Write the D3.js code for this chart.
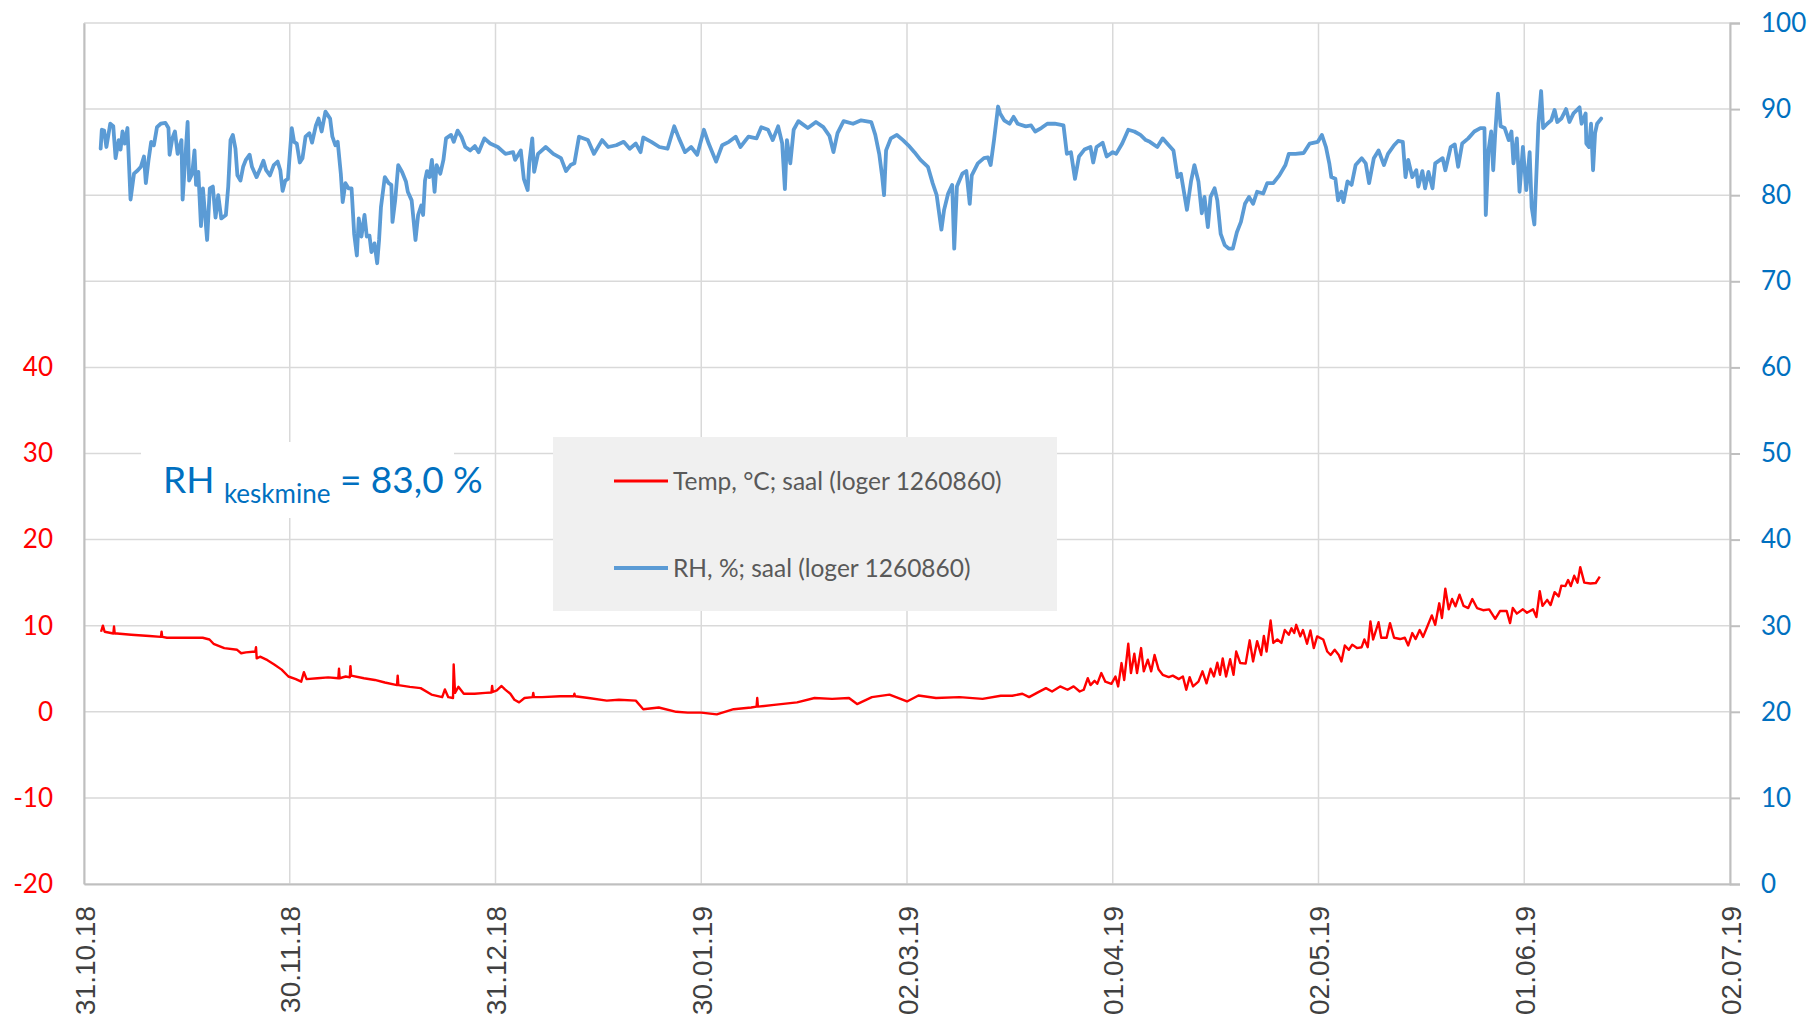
<!DOCTYPE html>
<html>
<head>
<meta charset="utf-8">
<script src="https://d3js.org/d3.v7.min.js"></script>
<style>
  body { margin: 0; background: #fff; }
  svg { display: block; }
</style>
</head>
<body>
<svg id="chart"></svg>
<script>
// days are counted from 31.10.2018 (the first date on the axis)
const startDate = Date.UTC(2018, 9, 31)
const dayMs = 864e5

const tempDays = [
  2.53, 2.8, 3.06, 4.35, 4.45, 4.55, 4.9, 7.0, 9.7, 11.4, 11.5, 11.6, 12.3, 15.0, 17.6, 18.6, 19.2, 20.8,
  22.7, 23.3, 24.0, 25.4, 25.5, 25.6, 26.1, 27.2, 28.2, 29.3, 30.3, 31.4, 32.2, 32.6, 33.0, 34.6, 36.2,
  37.7, 37.8, 37.9, 38.8, 39.4, 39.5, 39.6, 41.5, 43.1, 44.6, 46.4, 46.5, 46.6, 48.3, 49.9, 51.5, 53.1,
  53.5, 54.0, 54.7, 54.8, 55.0, 55.5, 56.3, 57.9, 59.5, 60.4, 60.5, 60.6, 61.2, 61.9, 62.4, 63.2, 63.8,
  64.5, 65.3, 66.5, 66.6, 66.7, 67.9, 70.6, 72.6, 72.7, 72.8, 74.8, 77.5, 79.3, 81.8, 82.9, 85.2, 87.8,
  89.5, 91.5, 93.8, 96.3, 98.9, 99.7, 99.8, 99.9, 102.3, 105.7, 108.3, 110.9, 113.4, 114.6, 116.8, 119.4,
  122.0, 123.7, 126.3, 129.8, 133.2, 135.9, 137.6, 139.1, 140.1, 141.4, 142.6, 143.5, 144.7, 145.8, 146.7,
  147.6, 148.2, 148.8, 149.2, 149.8, 150.2, 150.8, 151.4, 152.3, 152.9, 153.3, 153.8, 154.2, 154.8, 155.2,
  155.7, 156.1, 156.7, 157.1, 157.7, 158.2, 158.7, 159.3, 159.9, 160.8, 161.4, 162.3, 162.9, 163.4, 163.9,
  164.4, 165.2, 165.8, 166.4, 167.0, 167.5, 168.0, 168.4, 168.8, 169.3, 169.9, 170.4, 170.8, 171.4, 172.2,
  172.8, 173.3, 173.9, 174.5, 174.9, 175.3, 175.9, 176.3, 176.9, 177.5, 178.0, 178.6, 179.0, 179.4, 179.7,
  180.3, 180.7, 181.3, 181.8, 182.3, 182.8, 183.7, 184.3, 184.8, 185.4, 186.0, 186.4, 186.9, 187.5, 188.0,
  188.7, 189.4, 189.8, 190.3, 190.7, 191.1, 191.9, 192.3, 193.1, 193.6, 194.2, 195.1, 195.8, 196.3, 196.9,
  197.4, 198.0, 198.5, 199.1, 199.8, 200.3, 200.9, 201.3, 201.8, 202.3, 202.8, 203.3, 203.9, 204.5, 205.2,
  205.8, 206.5, 207.4, 208.3, 209.2, 209.9, 210.9, 211.4, 211.8, 212.4, 213.3, 213.9, 214.8, 215.3, 215.8,
  216.2, 216.9, 217.4, 218.0, 218.6, 219.0, 219.6, 220.0, 220.4, 220.9, 221.4, 221.8, 222.4, 223.3, 224.1,
  224.7
]
const tempValues = [
  9.3, 10.0, 9.3, 9.1, 9.9, 9.1, 9.1, 8.95, 8.8, 8.7, 9.3, 8.7, 8.6, 8.6, 8.6, 8.4, 7.9, 7.4,
  7.2, 6.8, 6.9, 7.0, 7.5, 6.2, 6.4, 6.0, 5.5, 4.9, 4.1, 3.8, 3.5, 4.6, 3.8, 3.9, 4.0,
  3.9, 5.0, 3.9, 4.1, 4.0, 5.3, 4.2, 3.9, 3.7, 3.4, 3.1, 4.2, 3.1, 2.9, 2.75, 2.0, 1.7,
  2.6, 1.7, 1.6, 5.5, 2.2, 2.9, 2.1, 2.1, 2.2, 2.25, 3.0, 2.3, 2.5, 3.0, 2.6, 2.1, 1.4,
  1.1, 1.6, 1.7, 2.2, 1.7, 1.7, 1.8, 1.8, 2.1, 1.8, 1.6, 1.3, 1.4, 1.3, 0.3, 0.5, 0.0,
  -0.1, -0.1, -0.3, 0.3, 0.5, 0.6, 1.6, 0.6, 0.8, 1.1, 1.6, 1.5, 1.6, 0.9, 1.7, 2.0,
  1.2, 1.9, 1.6, 1.7, 1.5, 1.86, 1.86, 2.1, 1.7, 2.25, 2.75, 2.36, 2.95, 2.56, 2.95,
  2.36, 2.56, 3.9, 3.1, 3.6, 3.25, 4.5, 3.5, 3.25, 4.1, 2.95, 5.66, 3.7, 7.9, 4.5,
  6.74, 4.5, 7.4, 4.7, 6.05, 4.7, 6.6, 4.9, 4.3, 4.03, 4.2, 3.8, 4.1, 2.56, 4.03,
  2.95, 3.5, 4.7, 3.3, 5.0, 4.1, 5.7, 4.3, 6.2, 4.1, 6.1, 4.3, 7.0, 5.66, 5.6,
  8.3, 5.85, 8.2, 6.6, 8.8, 7.0, 10.6, 8.0, 8.4, 8.0, 9.5, 8.95, 9.7, 9.15, 10.1,
  8.76, 9.5, 7.9, 9.45, 7.4, 8.76, 8.4, 7.0, 6.6, 7.2, 6.6, 5.85, 7.7, 7.2, 7.8,
  7.4, 7.5, 8.4, 7.5, 10.5, 8.4, 10.4, 8.6, 8.6, 10.3, 8.6, 8.45, 8.6, 7.7, 9.15,
  8.45, 9.5, 8.7, 9.85, 11.2, 10.1, 12.6, 10.9, 14.3, 11.9, 13.1, 12.25, 13.6, 12.3, 12.05,
  13.1, 12.05, 11.8, 11.9, 10.8, 11.7, 11.7, 10.3, 12.05, 11.4, 11.9, 11.5, 11.9, 11.0, 14.0,
  12.3, 13.0, 12.4, 13.9, 13.4, 14.65, 14.6, 15.3, 14.6, 15.8, 15.0, 16.8, 15.0, 14.9, 14.96,
  15.7
]

const rhDays = [
  2.47, 2.64, 2.98, 3.32, 3.89, 4.34, 4.68, 5.14, 5.42, 5.71, 6.05, 6.44, 6.9, 7.41, 7.98, 8.43, 8.89,
  9.17, 9.57, 9.96, 10.36, 10.82, 11.38, 12.07, 12.52, 12.69, 13.09, 13.48, 13.88, 14.45, 14.62, 15.36,
  15.58, 16.04, 16.38, 16.61, 16.95, 17.34, 17.63, 18.25, 18.65, 19.1, 19.5, 19.9, 20.35, 21.03, 21.38,
  21.72, 22.06, 22.45, 22.74, 23.19, 23.59, 23.99, 24.55, 24.9, 25.58, 26.14, 26.6, 27.0, 27.56, 28.13,
  28.7, 29.1, 29.44, 29.84, 30.23, 30.8, 31.14, 31.54, 31.99, 32.39, 32.84, 33.41, 33.81, 34.38, 34.77,
  35.23, 35.79, 36.48, 36.82, 37.27, 37.61, 38.07, 38.35, 38.75, 39.2, 39.66, 40.05, 40.45, 40.73, 41.13,
  41.58, 41.92, 42.32, 42.61, 43.06, 43.46, 43.74, 44.02, 44.59, 45.16, 45.56, 45.73, 46.13, 46.58, 47.15,
  47.72, 48.0, 48.57, 49.14, 49.53, 49.99, 50.27, 50.55, 50.84, 51.23, 51.57, 51.97, 52.26, 52.82, 53.28,
  53.67, 54.41, 54.81, 55.38, 55.95, 56.52, 57.25, 57.94, 58.5, 59.35, 60.21, 61.34, 62.48, 63.61, 63.9,
  64.75, 65.2, 65.77, 66.0, 66.45, 66.73, 67.3, 68.44, 69.57, 70.71, 71.45, 72.13, 72.69, 73.38, 74.7,
  75.6, 76.8, 77.7, 78.9, 80.0, 80.9, 81.8, 82.5, 82.9, 84.1, 85.3, 86.5, 87.5, 88.2, 89.1, 90.0, 90.9,
  91.9, 92.6, 93.7, 94.6, 95.6, 96.6, 97.3, 98.5, 99.7, 100.4, 101.4, 102.1, 102.9, 103.5, 103.9, 104.2,
  104.7, 105.2, 105.9, 107.3, 108.5, 109.6, 110.5, 111.1, 111.7, 112.6, 114.0, 115.2, 116.7, 117.3, 117.9,
  118.3, 118.6, 118.9, 119.6, 120.5, 121.4, 122.2, 123.1, 124.0, 125.1, 125.8, 126.4, 127.1, 127.5, 128.1,
  128.7, 129.0, 129.4, 130.2, 130.8, 131.3, 131.6, 132.5, 133.4, 134.0, 134.4, 134.9, 135.5, 135.8, 136.4,
  137.2, 137.8, 138.4, 139.6, 140.4, 141.0, 141.9, 142.8, 143.9, 145.2, 145.7, 146.3, 146.9, 147.5, 148.3,
  149.2, 149.6, 150.1, 151.0, 151.6, 152.5, 153.0, 153.9, 154.8, 155.7, 156.6, 157.4, 158.0, 159.1, 159.9,
  160.8, 161.5, 162.1, 162.6, 163.5, 164.1, 164.6, 165.2, 165.7, 166.1, 166.6, 167.0, 167.6, 168.0, 168.5,
  169.1, 169.7, 170.3, 170.9, 171.5, 172.1, 172.7, 173.3, 173.9, 174.8, 175.4, 176.3, 177.2, 178.1, 178.6,
  179.6, 180.8, 181.7, 182.9, 183.5, 184.1, 184.6, 184.9, 185.5, 185.9, 186.4, 186.7, 187.3, 187.9, 188.5,
  189.4, 190.0, 190.5, 191.2, 191.9, 192.7, 193.3, 194.2, 194.8, 195.5, 195.9, 196.3, 196.9, 197.5, 197.8,
  198.4, 198.8, 199.3, 199.9, 200.3, 201.4, 201.8, 202.6, 203.2, 203.7, 204.3, 205.2, 206.1, 207.0, 207.6,
  207.8, 208.2, 208.6, 208.9, 209.2, 209.6, 210.0, 210.6, 211.2, 211.6, 211.9, 212.4, 212.8, 213.3, 213.8,
  214.3, 214.6, 215.0, 215.6, 216.0, 216.3, 216.9, 217.5, 218.0, 218.4, 219.0, 219.7, 220.2, 220.8, 221.7,
  222.0, 222.6, 222.7, 223.1, 223.4, 223.7, 224.0, 224.3, 224.9
]
const rhValues = [
  85.4, 87.6, 87.5, 85.6, 88.3, 88.0, 84.3, 86.4, 85.3, 87.4, 86.0, 87.8, 79.5, 82.5, 82.9, 83.3, 84.5,
  81.4, 84.1, 86.2, 85.8, 87.9, 88.3, 88.4, 87.8, 84.7, 86.6, 87.4, 84.8, 86.4, 79.5, 88.5,
  81.7, 82.5, 85.2, 81.2, 82.7, 76.4, 80.8, 74.8, 80.8, 81.0, 77.4, 80.0, 77.3, 77.7, 81.0,
  86.4, 87.0, 85.4, 82.3, 81.7, 83.3, 84.1, 84.7, 83.3, 82.1, 83.1, 84.0, 82.9, 82.3, 83.5,
  83.9, 82.9, 80.5, 81.7, 81.9, 87.8, 86.2, 86.0, 83.8, 84.3, 86.8, 87.2, 86.1, 88.1, 88.9,
  87.4, 89.7, 88.9, 86.8, 85.8, 86.2, 82.5, 79.2, 81.4, 80.8, 80.8, 75.5, 73.0, 77.3, 75.2,
  77.7, 75.2, 75.3, 73.4, 74.4, 72.1, 74.8, 78.6, 82.1, 81.4, 81.2, 76.9, 79.4, 83.5, 82.7,
  81.6, 80.4, 79.4, 74.8, 77.7, 78.8, 77.7, 81.7, 82.8, 82.1, 84.1, 80.4, 83.5, 82.5, 84.1,
  86.6, 87.0, 86.2, 87.5, 86.8, 85.6, 85.2, 85.7, 85.0, 86.6, 86.0, 85.6, 84.8, 85.0, 84.1,
  85.2, 81.9, 80.6, 83.7, 86.6, 82.7, 84.8, 85.6, 84.8, 84.3, 82.8, 83.5, 83.7, 86.8, 86.4,
  84.8, 86.4, 85.6, 85.8, 86.2, 85.4, 86.0, 85.0, 86.7, 86.2, 85.6, 85.4, 88.0, 86.6, 85.0, 85.6, 84.7,
  87.6, 86.0, 83.9, 85.8, 86.2, 86.8, 85.6, 86.8, 86.6, 87.9, 87.6, 86.4, 88.0, 86.0, 80.7, 86.4,
  83.7, 87.6, 88.6, 87.8, 88.5, 87.9, 86.9, 85.0, 87.2, 88.6, 88.3, 88.7, 88.5, 87.0, 84.7,
  82.3, 80.0, 85.2, 86.6, 87.0, 86.4, 85.8, 85.0, 84.1, 83.3, 81.4, 80.0, 76.0, 78.3, 80.2,
  81.2, 73.8, 81.0, 82.5, 82.8, 79.0, 82.3, 83.7, 84.3, 84.4, 83.5, 86.4, 90.3, 89.5, 88.7,
  88.3, 89.1, 88.3, 88.0, 88.1, 87.4, 87.8, 88.3, 88.3, 88.1, 84.8, 85.0, 81.9, 84.5, 85.3,
  85.6, 83.8, 85.6, 86.1, 84.5, 85.0, 84.8, 86.0, 87.6, 87.4, 87.0, 86.4, 86.2, 85.6, 86.6,
  85.8, 85.2, 82.1, 82.5, 78.3, 81.6, 83.5, 81.6, 77.9, 79.8, 76.3, 79.8, 80.8, 79.4, 75.5,
  74.2, 73.8, 73.8, 75.7, 76.9, 79.0, 79.8, 79.0, 80.4, 80.2, 81.4, 81.4, 82.3, 83.5, 84.8,
  84.8, 84.9, 86.0, 86.2, 87.0, 85.6, 83.7, 82.1, 81.9, 79.4, 80.4, 79.2, 81.6, 81.2, 83.5,
  84.3, 83.7, 81.4, 84.3, 85.2, 83.5, 84.8, 85.8, 86.3, 86.2, 82.1, 84.1, 82.1, 82.9, 81.0,
  82.8, 80.8, 82.7, 80.8, 83.7, 84.3, 82.9, 85.6, 85.9, 83.3, 86.0, 86.6, 87.4, 87.8, 87.8,
  77.7, 85.2, 87.4, 82.9, 87.2, 91.8, 88.0, 87.8, 86.4, 87.4, 83.7, 86.6, 80.4, 85.6, 80.6,
  85.0, 78.6, 76.6, 88.3, 92.1, 87.8, 88.3, 88.7, 89.9, 88.5, 88.9, 90.0, 88.5, 89.5, 90.2,
  88.3, 89.5, 86.0, 85.6, 88.3, 82.9, 87.2, 88.3, 88.9
]

const leftTicks = [-20, -10, 0, 10, 20, 30, 40]
const rightTicks = [0, 10, 20, 30, 40, 50, 60, 70, 80, 90, 100]
// date axis: 31.10.18 .. 02.07.19 with a major unit of 30.5 days
const dateTicks = d3.range(0, 244.01, 30.5)
const seriesNames = ['Temp, °C; saal (loger 1260860)', 'RH, %; saal (loger 1260860)']
const seriesColors = ['#ff0000', '#5b9bd5']
const rhMeanParts = ['RH ', 'keskmine', ' = 83,0 %']

const W = 1811
const H = 1020
const margin = { top: 23, right: 81, bottom: 136, left: 84 }
const width = W - margin.left - margin.right
const height = H - margin.top - margin.bottom

const numFont = 'Lato, "Open Sans", sans-serif'
const dateFont = '"Liberation Sans", Arial, sans-serif'

const toDate = (d) => new Date(startDate + d * dayMs)

const x = d3.scaleUtc()
  .domain([toDate(0), toDate(244)])
  .range([0, width])

const yLeft = d3.scaleLinear().domain([-20, 80]).range([height, 0])
const yRight = d3.scaleLinear().domain([0, 100]).range([height, 0])

const svg = d3.select('#chart')
  .attr('width', W)
  .attr('height', H)

const g = svg.append('g')
  .attr('transform', `translate(${margin.left}, ${margin.top})`)

// gridlines
g.append('g')
  .selectAll('line')
  .data(rightTicks)
  .join('line')
  .attr('x1', 0)
  .attr('x2', width)
  .attr('y1', (d) => yRight(d))
  .attr('y2', (d) => yRight(d))
  .attr('stroke', '#d9d9d9')
  .attr('stroke-width', 1.5)

g.append('g')
  .selectAll('line')
  .data(dateTicks)
  .join('line')
  .attr('x1', (d) => x(toDate(d)))
  .attr('x2', (d) => x(toDate(d)))
  .attr('y1', 0)
  .attr('y2', height)
  .attr('stroke', '#d9d9d9')
  .attr('stroke-width', 1.5)

// left axis (temperature), plain hyphen for negatives like the original
const leftAxis = g.append('g')
  .call(d3.axisLeft(yLeft).tickValues(leftTicks).tickFormat((d) => String(d)).tickSize(0).tickPadding(31))
leftAxis.select('.domain').attr('stroke', '#bfbfbf').attr('stroke-width', 2)
leftAxis.selectAll('text')
  .attr('fill', '#ff0000')
  .style('font-family', numFont)
  .style('font-size', '26px')

// right axis (RH)
const rightAxis = g.append('g')
  .attr('transform', `translate(${width}, 0)`)
  .call(d3.axisRight(yRight).tickValues(rightTicks).tickSize(10).tickPadding(21))
rightAxis.select('.domain').attr('stroke', '#bfbfbf').attr('stroke-width', 2)
rightAxis.selectAll('line').attr('stroke', '#bfbfbf').attr('stroke-width', 2)
rightAxis.selectAll('text')
  .attr('fill', '#0070c0')
  .style('font-family', numFont)
  .style('font-size', '26px')

// bottom date axis
const bottomAxis = g.append('g')
  .attr('transform', `translate(0, ${height})`)
  .call(d3.axisBottom(x)
    .tickValues(dateTicks.map(toDate))
    .tickFormat(d3.utcFormat('%d.%m.%y'))
    .tickSize(0))
bottomAxis.select('.domain').attr('stroke', '#bfbfbf').attr('stroke-width', 2)
bottomAxis.selectAll('text')
  .attr('transform', 'rotate(-90)')
  .attr('x', -22)
  .attr('y', 0)
  .attr('dy', '0.36em')
  .attr('text-anchor', 'end')
  .attr('fill', '#404040')
  .style('font-family', dateFont)
  .style('font-size', '28px')

// series
const tempLine = d3.line()
  .x((d) => x(toDate(d[0])))
  .y((d) => yLeft(d[1]))

const rhLine = d3.line()
  .x((d) => x(toDate(d[0])))
  .y((d) => yRight(d[1]))

g.append('path')
  .datum(d3.zip(tempDays, tempValues))
  .attr('fill', 'none')
  .attr('stroke', seriesColors[0])
  .attr('stroke-width', 2.4)
  .attr('stroke-linejoin', 'round')
  .attr('d', tempLine)

g.append('path')
  .datum(d3.zip(rhDays, rhValues))
  .attr('fill', 'none')
  .attr('stroke', seriesColors[1])
  .attr('stroke-width', 3.8)
  .attr('stroke-linejoin', 'round')
  .attr('stroke-linecap', 'round')
  .attr('d', rhLine)

// RH mean text box
svg.append('rect')
  .attr('x', 141)
  .attr('y', 442)
  .attr('width', 313)
  .attr('height', 76)
  .attr('fill', '#fff')

const note = svg.append('text')
  .attr('x', 163)
  .attr('y', 493)
  .attr('fill', '#0070c0')
  .style('font-family', numFont)
  .style('font-size', '37px')
note.append('tspan').text(rhMeanParts[0])
note.append('tspan')
  .attr('dy', 10)
  .style('font-size', '26px')
  .text(rhMeanParts[1])
note.append('tspan')
  .attr('dy', -10)
  .text(rhMeanParts[2])

// legend
const legend = svg.append('g')
  .attr('transform', 'translate(553, 437)')

legend.append('rect')
  .attr('width', 504)
  .attr('height', 174)
  .attr('fill', '#f0f0f0')

const items = legend.selectAll('g.item')
  .data(seriesNames)
  .join('g')
  .attr('class', 'item')
  .attr('transform', (d, i) => `translate(61, ${44 + i * 87})`)

items.append('line')
  .attr('x1', 0)
  .attr('x2', 54)
  .attr('stroke', (d, i) => seriesColors[i])
  .attr('stroke-width', (d, i) => (i === 0 ? 3 : 4))

items.append('text')
  .attr('x', 59)
  .attr('dy', '0.35em')
  .attr('fill', '#595959')
  .style('font-family', numFont)
  .style('font-size', '24.5px')
  .text((d) => d)
</script>
</body>
</html>
